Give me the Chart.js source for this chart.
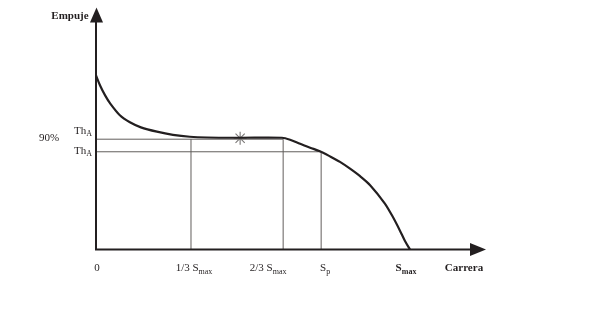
<!DOCTYPE html>
<html><head><meta charset="utf-8">
<script src="https://cdn.jsdelivr.net/npm/chart.js@4"></script>
<style>html,body{margin:0;padding:0;background:#fff}#wrap{width:600px;height:318px;position:relative}</style>
</head><body><div id="wrap"><canvas id="c"></canvas></div>
<script>
// Thrust curve (Empuje vs Carrera), Smax = 100 units
const curveX = [0, 1.3, 2.9, 4.5, 7.6, 10.8, 14.3, 19.4, 24.5, 29.9, 35.4, 45.9, 59.2, 61.8, 65.0, 68.2, 71.3, 74.5, 77.7, 80.9, 84.1, 87.3, 92.0, 94.6, 96.8, 98.4, 100];
const curveY = [72.0, 67.8, 63.7, 60.4, 55.5, 52.6, 50.5, 48.7, 47.4, 46.6, 46.3, 46.2, 46.2, 45.4, 43.7, 42.1, 40.6, 38.5, 36.2, 33.4, 30.3, 26.6, 19.0, 13.3, 7.8, 3.5, 0];
const thA = 45.6;       // Th_A level
const thA90 = 40.4;     // 90% Th_A level
const markX = [0, 30.25, 59.6, 71.7, 100];   // 0, 1/3 Smax, 2/3 Smax, Sp, Smax
const tickMain = ['0', '1/3 S', '2/3 S', 'S', 'S'];
const tickSub = ['', 'max', 'max', 'p', 'max'];
const tickBold = [false, false, false, false, true];
const starPoint = [45.9, 46.0];

const INK = '#231f20', GUIDE = '#625e5c', SERIF = '"Liberation Serif", "DejaVu Serif", serif';

const guides = [
  [[0, thA], [markX[2], thA]],
  [[0, thA90], [markX[3], thA90]],
  [[markX[1], 0], [markX[1], thA]],
  [[markX[2], 0], [markX[2], thA]],
  [[markX[3], 0], [markX[3], thA90]]
];

const datasets = [{
  type: 'line', data: curveX.map((x, i) => ({x, y: curveY[i]})),
  borderColor: INK, borderWidth: 2.2, pointRadius: 0, tension: 0.3, order: 0
}, {
  type: 'scatter', data: [{x: starPoint[0], y: starPoint[1]}],
  pointStyle: 'star', pointRadius: 6.5, borderColor: '#7a7776', borderWidth: 1.1, backgroundColor: 'transparent', order: 0
}];
guides.forEach(g => datasets.push({
  type: 'line', data: g.map(p => ({x: p[0], y: p[1]})),
  borderColor: GUIDE, borderWidth: 1, pointRadius: 0, order: 2
}));

function drawSub(ctx, main, sub, x, y, align, bold, size) {
  const f1 = (bold ? 'bold ' : '') + size + 'px ' + SERIF;
  const f2 = (bold ? 'bold ' : '') + Math.round(size * 0.72) + 'px ' + SERIF;
  ctx.font = f1; const w1 = ctx.measureText(main).width;
  ctx.font = f2; const w2 = sub ? ctx.measureText(sub).width : 0;
  const w = w1 + w2;
  let sx = align === 'center' ? x - w / 2 : (align === 'right' ? x - w : x);
  ctx.textBaseline = 'middle'; ctx.textAlign = 'left'; ctx.fillStyle = INK;
  ctx.font = f1; ctx.fillText(main, sx, y);
  if (sub) { ctx.font = f2; ctx.fillText(sub, sx + w1, y + 3); }
}

const axesPlugin = {
  id: 'axes',
  afterDatasetsDraw(chart) {
    const ctx = chart.ctx, xs = chart.scales.x, ys = chart.scales.y;
    const x0 = xs.getPixelForValue(0), y0 = ys.getPixelForValue(0);
    const top = ys.getPixelForValue(100), right = xs.getPixelForValue(xs.max);
    ctx.save();
    ctx.strokeStyle = INK; ctx.fillStyle = INK; ctx.lineWidth = 2;
    ctx.beginPath(); ctx.moveTo(x0, y0); ctx.lineTo(x0, top + 14); ctx.stroke();
    ctx.beginPath(); ctx.moveTo(x0 - 1, y0); ctx.lineTo(right - 15, y0); ctx.stroke();
    ctx.beginPath(); ctx.moveTo(x0 + 0.5, top); ctx.lineTo(x0 + 7, top + 15); ctx.lineTo(x0 - 6, top + 15); ctx.closePath(); ctx.fill();
    ctx.beginPath(); ctx.moveTo(right, y0); ctx.lineTo(right - 16, y0 - 6.5); ctx.lineTo(right - 16, y0 + 6.5); ctx.closePath(); ctx.fill();
    // bottom labels
    const offs = [1, 3, -15, 4, -4];
    markX.forEach((v, i) => drawSub(ctx, tickMain[i], tickSub[i], xs.getPixelForValue(v) + offs[i], y0 + 19, 'center', tickBold[i], 11));
    drawSub(ctx, 'Carrera', '', right - 22, y0 + 19, 'center', true, 11);
    drawSub(ctx, 'Empuje', '', x0 - 26, top + 9, 'center', true, 11);
    drawSub(ctx, '90%', '', x0 - 47, ys.getPixelForValue(thA) - 1, 'center', false, 11);
    drawSub(ctx, 'Th', 'A', x0 - 22, ys.getPixelForValue(thA) - 8, 'left', false, 11);
    drawSub(ctx, 'Th', 'A', x0 - 22, ys.getPixelForValue(thA90) - 1, 'left', false, 11);
    ctx.restore();
  }
};

new Chart(document.getElementById('c'), {
  data: {datasets},
  options: {
    responsive: true, maintainAspectRatio: false, animation: false,
    layout: {padding: {left: 96, right: 114, top: 7, bottom: 68.5}},
    plugins: {legend: {display: false}, tooltip: {enabled: false}},
    scales: {
      x: {type: 'linear', min: 0, max: 124.2, display: false},
      y: {type: 'linear', min: 0, max: 100, display: false}
    }
  },
  plugins: [axesPlugin]
});
</script></body></html>
